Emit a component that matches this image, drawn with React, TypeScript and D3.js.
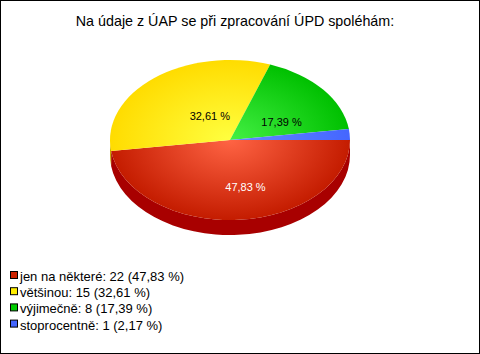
import React, { useEffect, useRef } from "react"
import * as d3 from "d3"

const TITLE = "Na údaje z ÚAP se při zpracování ÚPD spoléhám:"
const CATEGORIES = ["jen na některé", "většinou", "výjimečně", "stoprocentně"]
const COUNTS = [22, 15, 8, 1]
const PERCENT_LABELS = ["47,83 %", "32,61 %", "17,39 %", "2,17 %"]
const SHOW_LABEL = [true, true, true, false]
const LABEL_COLORS = ["#ffffff", "#000000", "#000000", "#000000"]

// [bright centre, edge, side wall]
const COLORS = [
	["#ff6444", "#c41c00", "#a80000"],
	["#ffff40", "#ffdc00", "#c8a800"],
	["#44f044", "#00c000", "#009000"],
	["#6688ff", "#4466ff", "#2244cc"],
]
const LEGEND_COLORS = ["#cc2200", "#ffee00", "#00cc00", "#4466ff"]

const W = 480
const H = 354

const App = () => {
	const svgRef = useRef(null)

	useEffect(() => {
		document.body.style.margin = "0"
		const svg = d3.select(svgRef.current)
		svg.selectAll("*").remove()

		const cx = 230
		const cy = 140
		const rx = 120
		const ry = 80
		const depth = 15
		const k = ry / rx

		svg.append("rect")
			.attr("x", 0.5).attr("y", 0.5)
			.attr("width", W - 1).attr("height", H - 1)
			.attr("fill", "#ffffff").attr("stroke", "#000000")

		svg.append("text")
			.attr("x", 235).attr("y", 26)
			.attr("text-anchor", "middle")
			.style("font-family", "Liberation Sans, Arial, sans-serif")
			.style("font-size", "14.3px")
			.attr("fill", "#000")
			.text(TITLE)

		const defs = svg.append("defs")
		COLORS.forEach((c, i) => {
			const g = defs.append("radialGradient")
				.attr("id", `grad${i}`)
				.attr("gradientUnits", "userSpaceOnUse")
				.attr("cx", 0).attr("cy", 0).attr("r", rx)
			g.append("stop").attr("offset", "0%").attr("stop-color", c[0])
			g.append("stop").attr("offset", "100%").attr("stop-color", c[1])
		})

		const pie = d3.pie<number>()
			.sort(null)
			.startAngle(Math.PI / 2)
			.endAngle(Math.PI / 2 + 2 * Math.PI)
		const arcs = pie(COUNTS)

		const ex = (a) => cx + rx * Math.sin(a)
		const ey = (a) => cy - ry * Math.cos(a)

		// side walls, only for the front half (angles between pi/2 and 3pi/2)
		const sideG = svg.append("g")
		arcs.forEach((d, i) => {
			const a0 = Math.max(d.startAngle, Math.PI / 2)
			const a1 = Math.min(d.endAngle, 1.5 * Math.PI)
			if (a1 <= a0) return
			const p =
				`M${ex(a0)},${ey(a0)}` +
				`A${rx},${ry} 0 0 1 ${ex(a1)},${ey(a1)}` +
				`L${ex(a1)},${ey(a1) + depth}` +
				`A${rx},${ry} 0 0 0 ${ex(a0)},${ey(a0) + depth}Z`
			sideG.append("path").attr("d", p).attr("fill", COLORS[i][2])
		})

		const arc = d3.arc().innerRadius(0).outerRadius(rx)
		const topG = svg.append("g")
			.attr("transform", `translate(${cx},${cy}) scale(1,${k})`)
		arcs.forEach((d, i) => {
			topG.append("path")
				.attr("d", arc(d))
				.attr("fill", `url(#grad${i})`)
		})

		const labelArc = d3.arc().innerRadius(rx * 0.5).outerRadius(rx * 0.5)
		arcs.forEach((d, i) => {
			if (!SHOW_LABEL[i]) return
			const [lx, ly] = labelArc.centroid(d)
			svg.append("text")
				.attr("x", cx + lx * 0.85 + 12)
				.attr("y", cy + ly * k + 11)
				.attr("text-anchor", "middle")
				.style("font-family", "Liberation Sans, Arial, sans-serif")
				.style("font-size", "11px")
				.attr("fill", LABEL_COLORS[i])
				.text(PERCENT_LABELS[i])
		})

		const legend = svg.append("g")
		CATEGORIES.forEach((name, i) => {
			const y = 276 + i * 16.2
			legend.append("rect")
				.attr("x", 10.5).attr("y", y - 4.5)
				.attr("width", 7).attr("height", 7)
				.attr("fill", LEGEND_COLORS[i])
				.attr("stroke", "#000").attr("stroke-width", 1)
			legend.append("text")
				.attr("x", 20).attr("y", y + 5)
				.style("font-family", "Liberation Sans, Arial, sans-serif")
				.style("font-size", "13px")
				.attr("fill", "#000")
				.text(`${name}: ${COUNTS[i]} (${PERCENT_LABELS[i]})`)
		})
	}, [])

	return (
		<svg
			ref={svgRef}
			width={W}
			height={H}
			style={{ display: "block", position: "absolute", left: 0, top: 0 }}
		></svg>
	)
}

export default App
